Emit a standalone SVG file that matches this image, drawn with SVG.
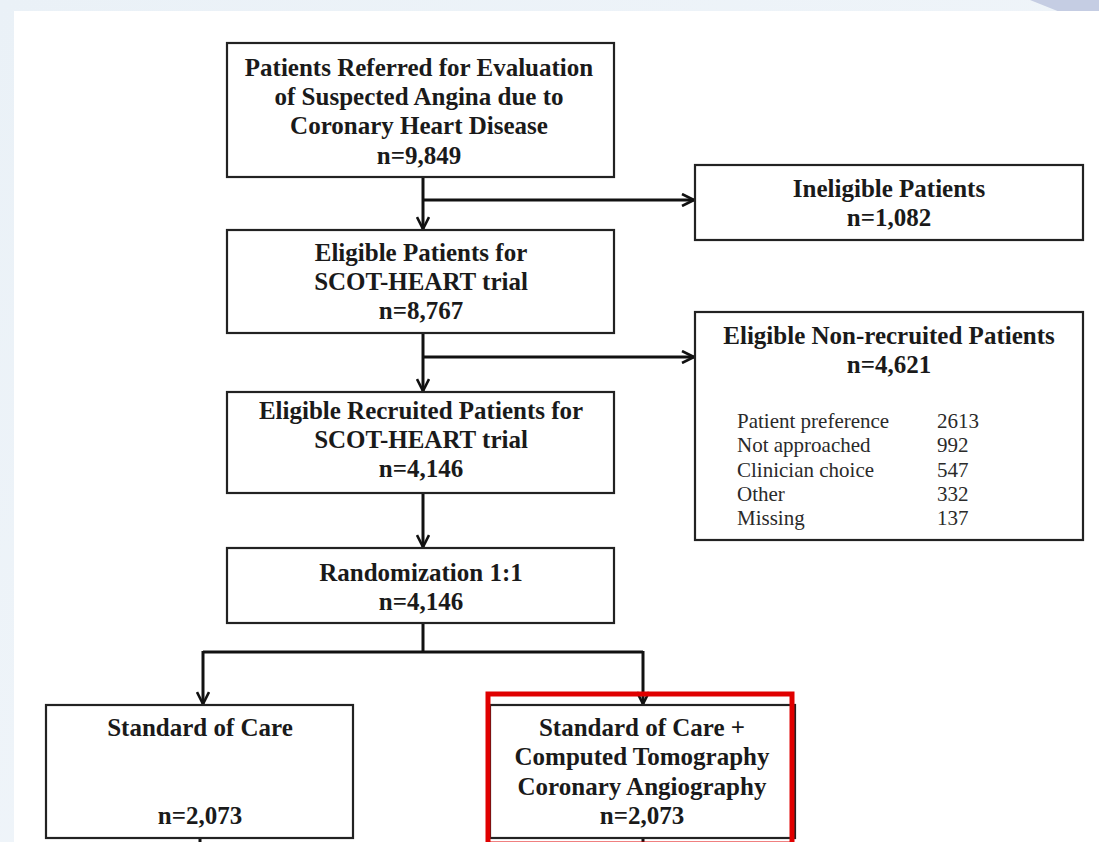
<svg xmlns="http://www.w3.org/2000/svg" width="1099" height="842" viewBox="0 0 1099 842">
<defs>
<linearGradient id="bg" x1="0" y1="0" x2="1" y2="1">
<stop offset="0" stop-color="#eaf1f7"/>
<stop offset="1" stop-color="#f3f7fb"/>
</linearGradient>
<marker id="ah" viewBox="0 0 14 14" refX="13" refY="7" markerWidth="14" markerHeight="14" markerUnits="userSpaceOnUse" orient="auto">
<path d="M1,1 L13,7 L1,13" fill="none" stroke="#111" stroke-width="2.6"/>
</marker>
<style>
.box{fill:#fff;stroke:#222;stroke-width:2.2}
.t{font-family:"Liberation Serif","Times New Roman",serif;font-weight:bold;font-size:25px;fill:#1a1a1a;text-anchor:middle}
.s{font-family:"Liberation Serif","Times New Roman",serif;font-size:21px;fill:#2a2a2a}
.c{fill:none;stroke:#111;stroke-width:3}
</style>
</defs>
<rect width="1099" height="842" fill="url(#bg)"/>
<path d="M1030,0 L1099,0 L1099,12 L1060,12 Z" fill="#c5cde3"/>
<rect x="14" y="11" width="1085" height="831" fill="#fff"/>
<g id="connectors">
<path class="c" d="M423,177 V229" marker-end="url(#ah)"/>
<path class="c" d="M423,200 H694" marker-end="url(#ah)"/>
<path class="c" d="M423,333 V391" marker-end="url(#ah)"/>
<path class="c" d="M423,357 H694" marker-end="url(#ah)"/>
<path class="c" d="M423,493 V547" marker-end="url(#ah)"/>
<path class="c" d="M423,623 V652 M203,652 H643"/>
<path class="c" d="M203,651 V704" marker-end="url(#ah)"/>
<path class="c" d="M643,651 V704" marker-end="url(#ah)"/>
<path class="c" d="M200,838 V842 M643,838 V842"/>
</g>
<g id="n1">
<rect class="box" x="227" y="43" width="387" height="134"/>
<text class="t" x="419" y="76">Patients Referred for Evaluation</text>
<text class="t" x="419" y="105">of Suspected Angina due to</text>
<text class="t" x="419" y="134">Coronary Heart Disease</text>
<text class="t" x="419" y="164">n=9,849</text>
</g>
<g id="n2">
<rect class="box" x="695" y="165" width="388" height="75"/>
<text class="t" x="889" y="197">Ineligible Patients</text>
<text class="t" x="889" y="226">n=1,082</text>
</g>
<g id="n3">
<rect class="box" x="227" y="230" width="387" height="103"/>
<text class="t" x="421" y="261">Eligible Patients for</text>
<text class="t" x="421" y="290">SCOT-HEART trial</text>
<text class="t" x="421" y="319">n=8,767</text>
</g>
<g id="n4">
<rect class="box" x="695" y="312" width="388" height="228"/>
<text class="t" x="889" y="344">Eligible Non-recruited Patients</text>
<text class="t" x="889" y="373">n=4,621</text>
<text class="s" x="737" y="428">Patient preference</text>
<text class="s" x="937" y="428">2613</text>
<text class="s" x="737" y="452">Not approached</text>
<text class="s" x="937" y="452">992</text>
<text class="s" x="737" y="477">Clinician choice</text>
<text class="s" x="937" y="477">547</text>
<text class="s" x="737" y="501">Other</text>
<text class="s" x="937" y="501">332</text>
<text class="s" x="737" y="525">Missing</text>
<text class="s" x="937" y="525">137</text>
</g>
<g id="n5">
<rect class="box" x="227" y="392" width="387" height="101"/>
<text class="t" x="421" y="419">Eligible Recruited Patients for</text>
<text class="t" x="421" y="448">SCOT-HEART trial</text>
<text class="t" x="421" y="477">n=4,146</text>
</g>
<g id="n6">
<rect class="box" x="227" y="548" width="387" height="75"/>
<text class="t" x="421" y="581">Randomization 1:1</text>
<text class="t" x="421" y="610">n=4,146</text>
</g>
<g id="n7">
<rect class="box" x="46" y="705" width="307" height="133"/>
<text class="t" x="200" y="736">Standard of Care</text>
<text class="t" x="200" y="824">n=2,073</text>
</g>
<g id="n8">
<rect class="box" x="490" y="705" width="305" height="133"/>
<text class="t" x="642" y="736">Standard of Care +</text>
<text class="t" x="642" y="765">Computed Tomography</text>
<text class="t" x="642" y="795">Coronary Angiography</text>
<text class="t" x="642" y="824">n=2,073</text>
<rect x="488" y="694" width="304" height="150" fill="none" stroke="#e00000" stroke-width="5"/>
</g>
</svg>
